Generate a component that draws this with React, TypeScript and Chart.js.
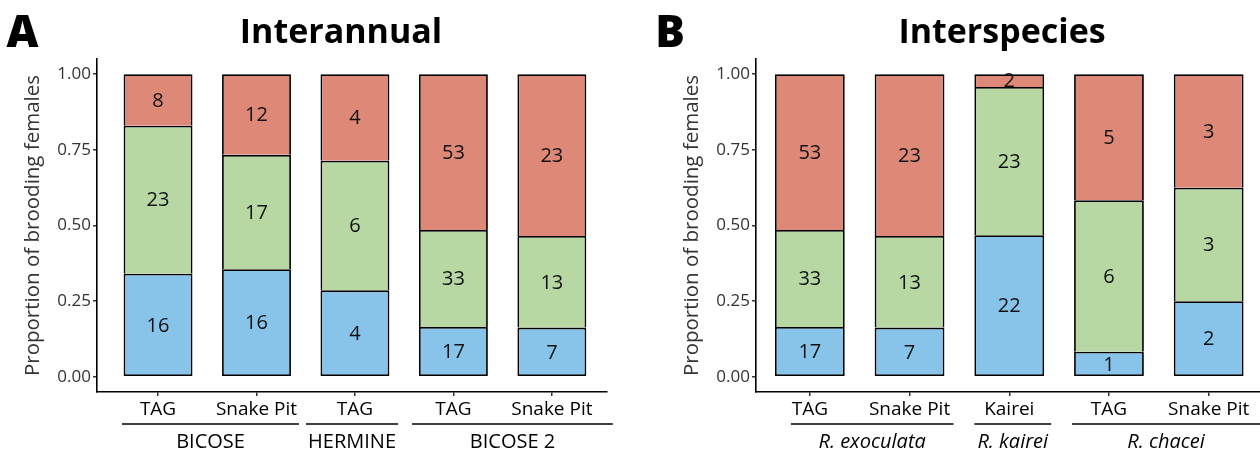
import { useEffect, useRef } from "react";
import { Chart, registerables } from "chart.js";
Chart.register(...registerables);

const FONT = '"Open Sans", "Noto Sans", sans-serif';

// ---------- Panel A data (counts of brooding females) ----------
const siteLabelsA = ["TAG", "Snake Pit", "TAG", "TAG", "Snake Pit"];
const groupLabelsA = ["BICOSE", "HERMINE", "BICOSE 2"];
const groupSpansA = [[-0.366, 1.432], [1.503, 2.438], [2.58, 4.62]];
const blueA = [16, 16, 4, 17, 7];
const greenA = [23, 17, 6, 33, 13];
const redA = [8, 12, 4, 53, 23];

// ---------- Panel B data ----------
const siteLabelsB = ["TAG", "Snake Pit", "Kairei", "TAG", "Snake Pit"];
const groupLabelsB = ["R. exoculata", "R. kairei", "R. chacei"];
const groupSpansB = [[-0.19, 1.44], [1.65, 2.42], [2.63, 4.9]];
const blueB = [17, 7, 22, 1, 2];
const greenB = [33, 13, 23, 6, 3];
const redB = [53, 23, 2, 5, 3];

const yTickValues = [0, 0.25, 0.5, 0.75, 1];
const yTitle = "Proportion of brooding females";

const COLORS = { blue: "#88C3EA", green: "#B7D7A3", red: "#DE8878" };

type Panel = {
  letter: string;
  title: string;
  sites: string[];
  groups: string[];
  spans: number[][];
  blue: number[];
  green: number[];
  red: number[];
  italicGroups: boolean;
  canvasWidth: number;
  areaLeft: number;
  areaRight: number;
  xMin: number;
  xMax: number;
  letterX: number;
  titleX: number;
  yTitleX: number;
};

const panelA: Panel = {
  letter: "A",
  title: "Interannual",
  sites: siteLabelsA,
  groups: groupLabelsA,
  spans: groupSpansA,
  blue: blueA,
  green: greenA,
  red: redA,
  italicGroups: false,
  canvasWidth: 630,
  areaLeft: 97,
  areaRight: 607,
  xMin: -0.62,
  xMax: 4.56,
  letterX: 22.5,
  titleX: 341,
  yTitleX: 33.5,
};

const panelB: Panel = {
  letter: "B",
  title: "Interspecies",
  sites: siteLabelsB,
  groups: groupLabelsB,
  spans: groupSpansB,
  blue: blueB,
  green: greenB,
  red: redB,
  italicGroups: true,
  canvasWidth: 650,
  areaLeft: 126,
  areaRight: 638.5,
  xMin: -0.54,
  xMax: 4.6,
  letterX: 40,
  titleX: 372,
  yTitleX: 62.5,
};

const H = 456;
const AREA_TOP = 59;
const AREA_BOTTOM = 392;
const BW = 1.8;

function makeDecor(p: Panel) {
  return {
    id: "decor" + p.letter,
    afterDatasetsDraw(chart: any) {
      const ctx = chart.ctx;
      ctx.save();
      ctx.font = `20px ${FONT}`;
      ctx.fillStyle = "#111";
      ctx.textAlign = "center";
      ctx.textBaseline = "middle";
      chart.data.datasets.forEach((ds: any, d: number) => {
        const meta = chart.getDatasetMeta(d);
        meta.data.forEach((el: any, i: number) => {
          const { x, y, base } = el.getProps(["x", "y", "base"], true);
          ctx.fillText(String(ds.counts[i]), x, (y + base) / 2 + 1);
        });
      });
      ctx.restore();
    },
    afterDraw(chart: any) {
      const ctx = chart.ctx;
      const xs = chart.scales.x;
      ctx.save();
      // panel letter
      ctx.fillStyle = "#000";
      ctx.textAlign = "center";
      ctx.textBaseline = "alphabetic";
      ctx.font = `800 44px ${FONT}`;
      ctx.fillText(p.letter, p.letterX, 47);
      // title
      ctx.font = `bold 34px ${FONT}`;
      ctx.fillText(p.title, p.titleX, 43);
      // y title
      ctx.save();
      ctx.translate(p.yTitleX, (chart.scales.y.getPixelForValue(0) + chart.scales.y.getPixelForValue(1)) / 2);
      ctx.rotate(-Math.PI / 2);
      ctx.textBaseline = "middle";
      ctx.fillStyle = "#333";
      ctx.font = `20.5px ${FONT}`;
      ctx.fillText(yTitle, 0, 0);
      ctx.restore();
      // group lines and labels
      ctx.strokeStyle = "#000";
      ctx.lineWidth = 1.5;
      ctx.textBaseline = "middle";
      ctx.font = `${p.italicGroups ? "italic " : ""}20px ${FONT}`;
      p.spans.forEach((s, g) => {
        const x0 = xs.getPixelForValue(s[0]);
        const x1 = xs.getPixelForValue(s[1]);
        ctx.beginPath();
        ctx.moveTo(x0, 424);
        ctx.lineTo(x1, 424);
        ctx.stroke();
        const visibleRight = Math.min(x1, 630);
        ctx.fillText(p.groups[g], (x0 + visibleRight) / 2, 442);
      });
      ctx.restore();
    },
  };
}

function PanelChart({ p, left }: { p: Panel; left: number }) {
  const ref = useRef<HTMLCanvasElement | null>(null);
  useEffect(() => {
    if (!ref.current) return;
    const totals = p.blue.map((b, i) => b + p.green[i] + p.red[i]);
    const series = [
      { counts: p.blue, color: COLORS.blue, bottom: true },
      { counts: p.green, color: COLORS.green, bottom: false },
      { counts: p.red, color: COLORS.red, bottom: false },
    ];
    const datasets = series.map((s) => ({
      data: s.counts.map((c, i) => ({ x: i, y: c / totals[i] })),
      counts: s.counts,
      backgroundColor: s.color,
      borderColor: "#000",
      borderWidth: { top: BW, left: BW, right: BW, bottom: s.bottom ? BW : 0 },
      borderSkipped: false,
      categoryPercentage: 0.7,
      barPercentage: 1,
    }));
    const chart = new Chart(ref.current, {
      type: "bar",
      data: { datasets: datasets as any },
      options: {
        animation: false,
        responsive: false,
        devicePixelRatio: 1,
        layout: {
          padding: { top: AREA_TOP, left: 0, right: p.canvasWidth - p.areaRight, bottom: 0 },
        },
        plugins: { legend: { display: false }, tooltip: { enabled: false }, title: { display: false } },
        scales: {
          x: {
            type: "linear",
            stacked: true,
            offset: false,
            min: p.xMin,
            max: p.xMax,
            afterBuildTicks: (s: any) => {
              s.ticks = p.sites.map((_, i) => ({ value: i }));
            },
            afterFit: (s: any) => {
              s.height = H - AREA_BOTTOM;
            },
            ticks: {
              autoSkip: false,
              maxRotation: 0,
              minRotation: 0,
              padding: 2,
              color: "#000",
              font: { family: FONT, size: 19 },
              callback: (v: any) => p.sites[Math.round(Number(v))] ?? "",
            },
            grid: {
              display: true,
              offset: false,
              drawOnChartArea: false,
              drawTicks: true,
              tickLength: 4,
              color: "#333",
              lineWidth: 1.5,
            },
            border: { display: true, color: "#000", width: 1.6 },
          },
          y: {
            type: "linear",
            stacked: true,
            min: -0.05,
            max: 1.05,
            afterBuildTicks: (s: any) => {
              s.ticks = yTickValues.map((v) => ({ value: v }));
            },
            afterFit: (s: any) => {
              s.width = p.areaLeft;
            },
            ticks: {
              padding: 2,
              color: "#333",
              font: { family: FONT, size: 17 },
              callback: (v: any) => Number(v).toFixed(2),
            },
            grid: { display: true, drawOnChartArea: false, drawTicks: true, tickLength: 4, color: "#333", lineWidth: 1.5 },
            border: { display: true, color: "#000", width: 1.6 },
          },
        },
      } as any,
      plugins: [makeDecor(p)],
    });
    return () => chart.destroy();
  }, [p]);
  return (
    <canvas
      ref={ref}
      width={p.canvasWidth}
      height={H}
      style={{ position: "absolute", left, top: 0, width: p.canvasWidth, height: H }}
    />
  );
}

export default function App() {
  return (
    <div
      style={{
        position: "fixed",
        left: 0,
        top: 0,
        width: 1260,
        height: 456,
        overflow: "hidden",
        background: "#fff",
      }}
    >
      <PanelChart p={panelA} left={0} />
      <PanelChart p={panelB} left={630} />
    </div>
  );
}
